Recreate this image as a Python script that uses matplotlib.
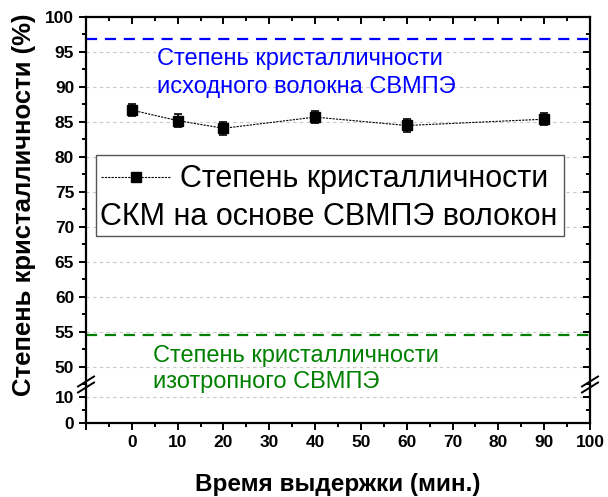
import numpy as np
import matplotlib
matplotlib.use("Agg")
import matplotlib.pyplot as plt
from matplotlib.lines import Line2D
from matplotlib.patches import Rectangle

plt.rcParams['font.family'] = ['Liberation Sans', 'DejaVu Sans']

# время выдержки, мин и степень кристалличности, %
time_min = [0, 10, 20, 40, 60, 90]
cryst = [86.7, 85.2, 84.1, 85.7, 84.5, 85.4]
cryst_err = [0.9, 0.9, 0.9, 0.9, 0.9, 0.9]

fiber_level = 96.8      # исходное волокно СВМПЭ
isotropic_level = 54.5  # изотропный СВМПЭ

xticks = [-10, 0, 10, 20, 30, 40, 50, 60, 70, 80, 90, 100]
xlabels = ['', '0', '10', '20', '30', '40', '50', '60', '70', '80', '90', '100']

W, H = 608, 497
fig = plt.figure(figsize=(W / 100, H / 100), dpi=100)
left, right = 86 / W, 590 / W
top, bottom = 1 - 17 / H, 1 - 423 / H
split = 1 - 384.5 / H
ax = fig.add_axes([left, split, right - left, top - split])
axb = fig.add_axes([left, bottom, right - left, split - bottom], sharex=ax)

ax.set_ylim(47.5, 100)
axb.set_ylim(0, 14.8)
ax.set_xlim(-10, 100)

axb.set_xticks(xticks, labels=xlabels)
axb.set_xticks(np.arange(-5, 100, 10), minor=True)
ax.set_yticks(np.arange(50, 101, 5))
ax.set_yticks(np.arange(47.5, 100, 2.5), minor=True)
axb.set_yticks([0, 10])
axb.set_yticks([5], minor=True)

for a in (ax, axb):
    for s in a.spines.values():
        s.set_linewidth(1.6)
    a.tick_params(axis='both', which='both', width=1.4, labelsize=12.5)
    a.tick_params(axis='both', which='major', length=5)
    a.tick_params(axis='both', which='minor', length=3)
    a.tick_params(axis='y', which='both', left=True, right=True,
                  direction='out')
    a.grid(axis='y', color='#c8c8c8', linestyle=(0, (3, 3)), linewidth=0.8)
    a.set_axisbelow(True)
    # ticks on the right spine point inward
    for tk in a.yaxis.get_major_ticks() + a.yaxis.get_minor_ticks():
        tk.tick2line.set_marker(matplotlib.markers.TICKLEFT)

ax.spines['bottom'].set_visible(False)
axb.spines['top'].set_visible(False)
ax.tick_params(axis='x', which='both', bottom=False, labelbottom=False,
               top=True, direction='in')
axb.tick_params(axis='x', which='both', bottom=True, top=False, direction='out')

for lab in ax.get_yticklabels() + axb.get_yticklabels() + axb.get_xticklabels():
    lab.set_fontweight('bold')

ax.axhline(fiber_level, color='#0000ff', linestyle=(0, (5, 3.5)), linewidth=1.6)
ax.axhline(isotropic_level, color='#008000', linestyle=(0, (5, 3.5)), linewidth=1.6)

ax.errorbar(time_min, cryst, yerr=cryst_err, fmt='s', color='black',
            markersize=7, capsize=3, elinewidth=1.2, capthick=1.2,
            linestyle=(0, (2, 1)), linewidth=0.8, zorder=5)

fig.text(157 / W, 1 - 73 / H, 'Степень кристалличности\nисходного волокна СВМПЭ',
         color='#0000ff', fontsize=17, linespacing=1.3,
         va='center', ha='left')
fig.text(153 / W, 1 - 369 / H, 'Степень кристалличности\nизотропного СВМПЭ',
         color='#008000', fontsize=17, linespacing=1.25,
         va='center', ha='left')

# legend box
fig.patches.append(Rectangle((96 / W, 1 - 236 / H), (564 - 96) / W, 81 / H,
                             transform=fig.transFigure, facecolor='white',
                             edgecolor='#555555', linewidth=1.0, zorder=6))
fig.lines.append(Line2D([101 / W, 170 / W], [1 - 177 / H, 1 - 177 / H],
                        transform=fig.transFigure, color='black',
                        linestyle=(0, (2, 1)), linewidth=0.8, zorder=7))
fig.lines.append(Line2D([135.5 / W], [1 - 177 / H], transform=fig.transFigure,
                        marker='s', color='black', markersize=7, zorder=8))
fig.text(180 / W, 1 - 179 / H, 'Степень кристалличности', fontsize=22,
         va='center', ha='left', zorder=8)
fig.text(100 / W, 1 - 217 / H, 'СКМ на основе СВМПЭ волокон', fontsize=22,
         va='center', ha='left', zorder=8)

# break marks on the y axis
for xs in (left, right):
    for dy in (-3, 3):
        y0 = split * H + dy
        fig.lines.append(Line2D([xs * W - 8, xs * W + 8],
                                [y0 - 5, y0 + 5], transform=None,
                                color='black', linewidth=1.4, zorder=9))

fig.text(338 / W, 1 - 485 / H, 'Время выдержки (мин.)', fontsize=17.5,
         fontweight='bold', va='center', ha='center')
fig.text(24 / W, 1 - 205 / H, 'Степень кристалличности (%)', fontsize=18.5,
         fontweight='bold', rotation=90, va='center', ha='center')

fig.savefig('out.png', dpi=100)
